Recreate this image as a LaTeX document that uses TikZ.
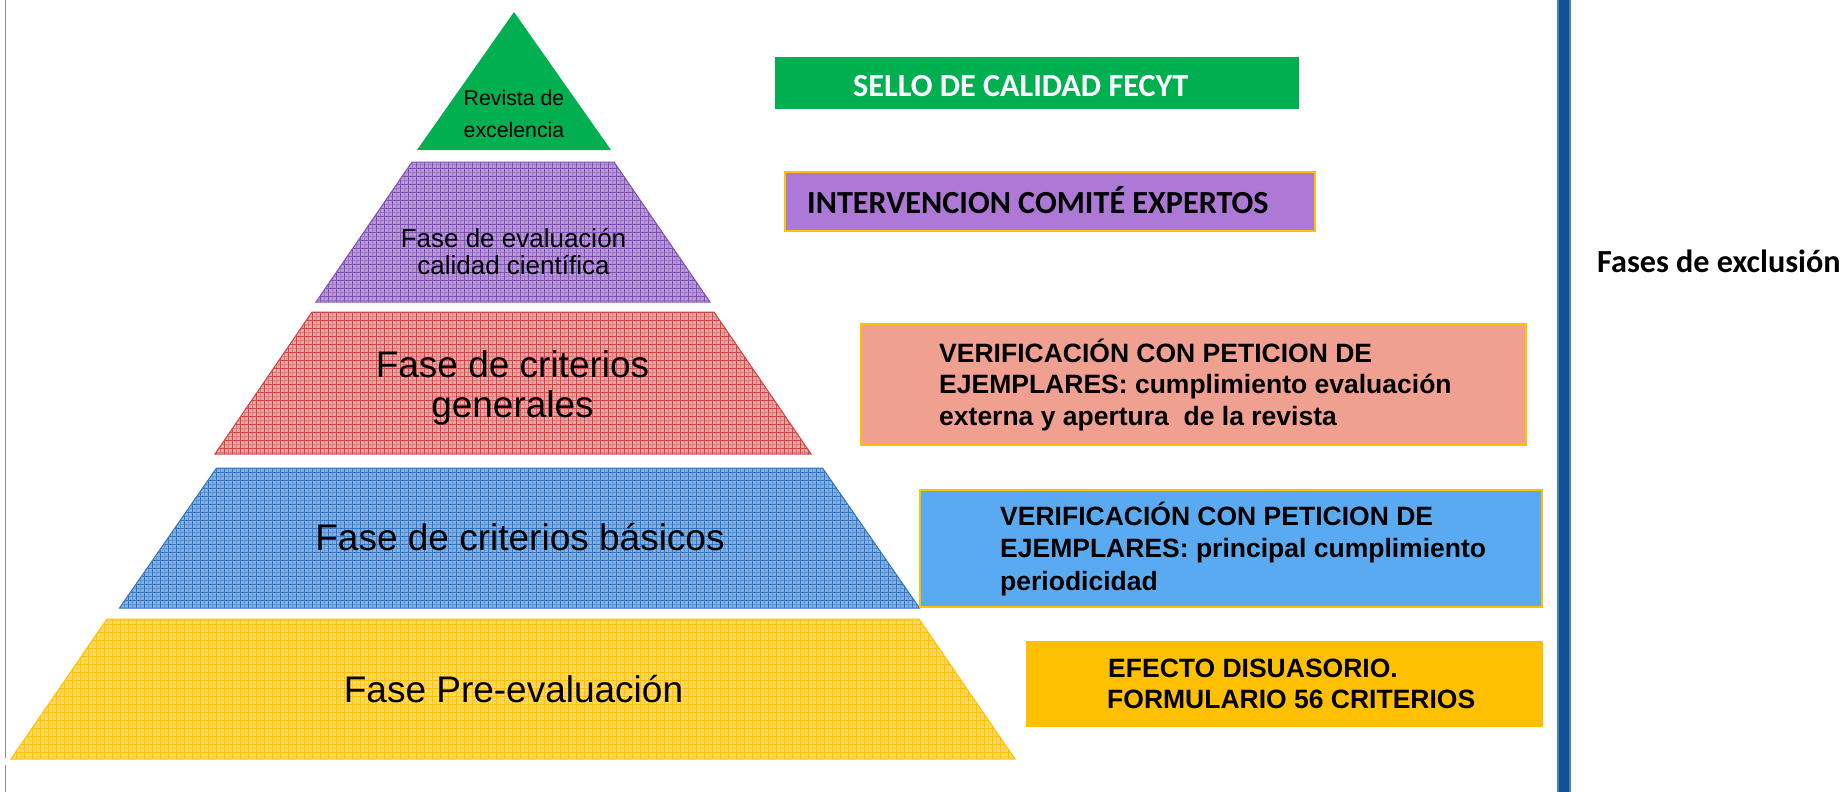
\documentclass[tikz,border=0pt]{standalone}
\usepackage{fontspec}
\setmainfont{Liberation Sans}
\newfontfamily\calib{Carlito}
\definecolor{fgreen}{HTML}{00B050}
\definecolor{yelbase}{HTML}{FFD966}
\definecolor{yelline}{HTML}{FFC000}
\definecolor{redbase}{HTML}{EBA3A3}
\definecolor{redline}{HTML}{D24545}
\definecolor{blubase}{HTML}{80B0E4}
\definecolor{bluline}{HTML}{3377C4}
\definecolor{purbase}{HTML}{B898DA}
\definecolor{purline}{HTML}{8050B4}
\definecolor{boxpur}{HTML}{AE78D6}
\definecolor{boxred}{HTML}{EFA091}
\definecolor{boxblu}{HTML}{5AAAF1}
\definecolor{boxyel}{HTML}{FFC000}
\definecolor{bardark}{HTML}{0F5193}
\definecolor{barlight}{HTML}{4A82C0}
\newcommand\pyrlayer[7]{%
  \begin{scope}
    \clip (#5-#3,#1) -- (#5+#3,#1) -- (#5+#4,#2) -- (#5-#4,#2) -- cycle;
    \fill[#6] (#5-#4,#1) rectangle (#5+#4,#2);
    \draw[#7!45!#6, line width=0.6pt, step=4pt] (#5-#4,#1) grid (#5+#4,#2);
    \draw[#7, line width=0.85pt, step=8pt] (#5-#4,#1) grid (#5+#4,#2);
  \end{scope}
  \draw[#7, line width=1pt] (#5-#3,#1) -- (#5+#3,#1) -- (#5+#4,#2) -- (#5-#4,#2) -- cycle;}
\tikzset{
  pyrbig/.style={font=\fontsize{37}{44}\selectfont, anchor=base, inner sep=0pt},
  pyrmid/.style={font=\fontsize{26}{30}\selectfont, anchor=base, inner sep=0pt},
  pyrsmall/.style={font=\fontsize{21.3}{24}\selectfont, anchor=base, inner sep=0pt},
  boxtxt/.style={font=\fontsize{26.5}{32}\selectfont\bfseries, anchor=base west, inner sep=0pt},
  caltxt/.style={font=\fontsize{32.2}{36}\selectfont\calib\bfseries, anchor=base west, inner sep=0pt},
  obox/.style={draw=yelline, line width=1.8pt}
}
\begin{document}
\begin{tikzpicture}[x=1pt,y=-1pt]
\useasboundingbox (0,0) rectangle (1848,792);
\fill[white] (0,0) rectangle (1848,792);
% left thin line
\draw[gray!90, line width=1pt] (5.5,0) coordinate (l0) -- (5.5,758) coordinate (l1);
\draw[gray!90, line width=1pt] (5.5,765) coordinate (l2) -- (5.5,792) coordinate (l3);
% pyramid
\fill[fgreen] (514,12) -- (611,150) -- (417,150) -- cycle;
\pyrlayer{162}{302}{101}{197}{513}{purbase}{purline}
\pyrlayer{312}{454}{201}{298}{513}{redbase}{redline}
\pyrlayer{468}{608}{303}{400}{519.5}{blubase}{bluline}
\pyrlayer{619}{759}{406}{502}{513}{yelbase}{yelline}
% pyramid texts
\node[pyrsmall] (t1a) at (514,106) {Revista de};
\node[pyrsmall] (t1b) at (514,137) {excelencia};
\node[pyrmid] (t2a) at (513.5,247) {Fase de evaluación};
\node[pyrmid] (t2b) at (513.5,274) {calidad científica};
\node[pyrbig] (t3a) at (512.5,377) {Fase de criterios};
\node[pyrbig] (t3b) at (512.5,417) {generales};
\node[pyrbig] (t4) at (520,550) {Fase de criterios básicos};
\node[pyrbig] (t5) at (513.5,702) {Fase Pre-evaluación};
% right boxes
\fill[fgreen] (775,57) rectangle (1299,109);
\node[caltxt, text=white] (b1) at (853,96) {SELLO DE CALIDAD FECYT};
\filldraw[boxpur, obox] (785,172) rectangle (1315,231);
\node[caltxt] (b2) at (807,213) {INTERVENCION COMITÉ EXPERTOS};
\filldraw[boxred, obox] (861,324) rectangle (1526,445);
\node[boxtxt] (b3a) at (939,362) {VERIFICACIÓN CON PETICION DE};
\node[boxtxt] (b3b) at (939,393.5) {EJEMPLARES: cumplimiento evaluación};
\node[boxtxt] (b3c) at (939,425) {externa y apertura\ \ de la revista};
\filldraw[boxblu, obox] (920,490) rectangle (1542,607);
\node[boxtxt] (b4a) at (1000,525) {VERIFICACIÓN CON PETICION DE};
\node[boxtxt] (b4b) at (1000,557.5) {EJEMPLARES: principal cumplimiento};
\node[boxtxt] (b4c) at (1000,590) {periodicidad};
\fill[boxyel] (1026,641) rectangle (1543,727);
\node[boxtxt] (b5a) at (1108,677) {EFECTO DISUASORIO.};
\node[boxtxt] (b5b) at (1107,708) {FORMULARIO 56 CRITERIOS};
% vertical bar
\fill[bardark] (1557,0) rectangle (1571,792);
\draw[barlight, line width=1.5pt] (1558,0) -- (1558,792);
\draw[barlight, line width=1.5pt] (1570,0) -- (1570,792);
\node[caltxt] (fx) at (1597,272) {Fases de exclusión};
\end{tikzpicture}
\end{document}
